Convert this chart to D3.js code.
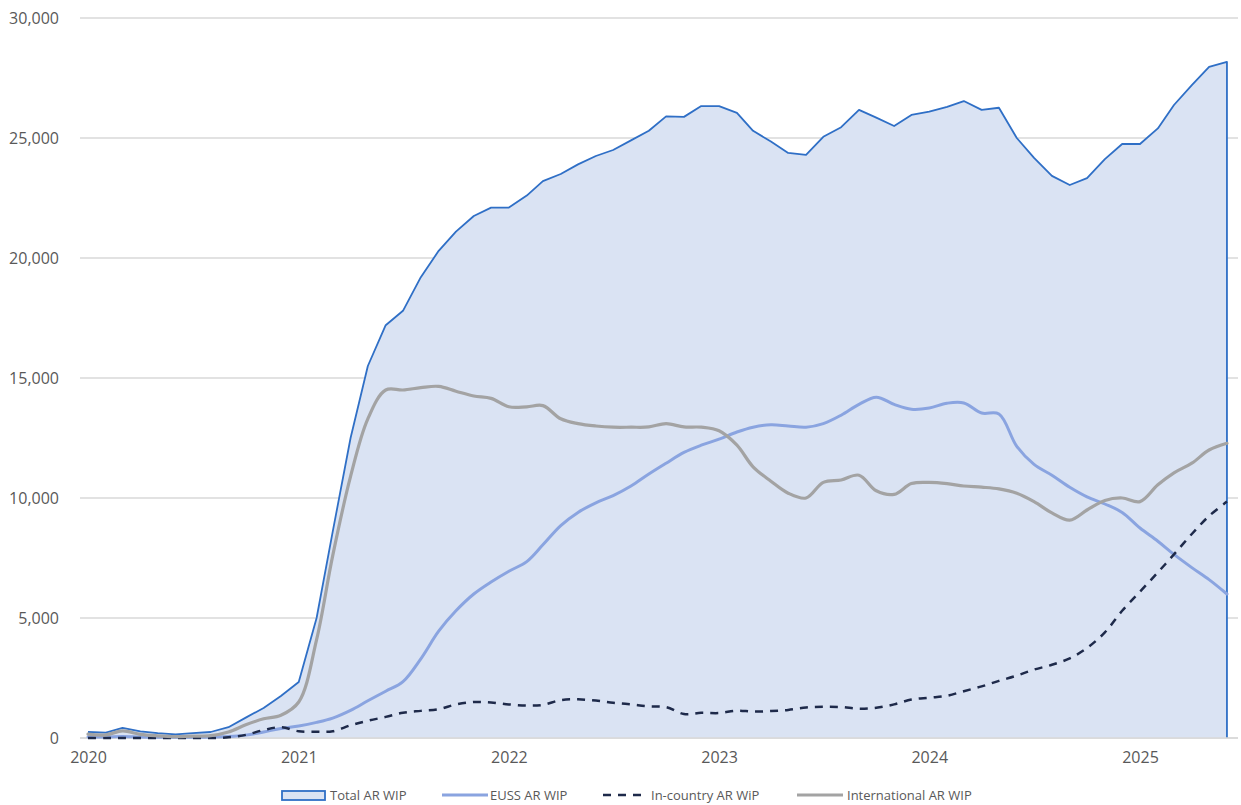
<!DOCTYPE html>
<html>
<head>
<meta charset="utf-8">
<script src="https://cdn.jsdelivr.net/npm/d3@7"></script>
<style>
  html, body { margin: 0; padding: 0; background: #ffffff; }
  svg { display: block; }
  text { font-family: "Open Sans", "Noto Sans", sans-serif; fill: #595959; }
</style>
</head>
<body>
<svg id="chart" width="1241" height="805"></svg>
<script>
// Monthly work-in-progress, January 2020 to June 2025
const months = d3.timeMonth.range(new Date(2020, 0, 1), new Date(2025, 6, 1));

const totalWip = [
  250, 220, 420, 280, 200, 150, 200, 250, 450, 850, 1250, 1750,
  2330, 5000, 8600, 12500, 15500, 17200, 17800, 19200, 20300, 21100, 21750, 22100,
  22100, 22600, 23200, 23500, 23900, 24250, 24500, 24900, 25300, 25900, 25880, 26330,
  26330, 26050, 25300, 24850, 24380, 24300, 25050, 25450, 26170, 25850, 25500, 25960,
  26100, 26300, 26540, 26170, 26260, 25000, 24170, 23420, 23040, 23330, 24120, 24750,
  24750, 25400, 26375, 27200, 27960, 28170
];
const eussWip = [
  40, 40, 60, 40, 30, 30, 30, 40, 60, 120, 250, 400,
  500, 650, 830, 1150, 1550, 1950, 2350, 3300, 4450, 5300, 6000, 6500,
  6950, 7350, 8050, 8850, 9400, 9800, 10100, 10500, 11000, 11450, 11900, 12200,
  12450, 12750, 12950, 13050, 13000, 12950, 13100, 13450, 13900, 14200, 13900, 13700,
  13750, 13950, 13960, 13540, 13500, 12150, 11400, 10950, 10450, 10050, 9750, 9400,
  8750, 8200, 7650, 7100, 6600, 6000
];
const inCountryWip = [
  0, 0, 0, 0, 0, 0, 0, 0, 30, 130, 330, 450,
  280, 260, 280, 530, 720, 880, 1050, 1130, 1200, 1400, 1500, 1480,
  1400, 1350, 1380, 1580, 1610, 1560, 1470, 1400, 1320, 1290, 1000, 1050,
  1040, 1140, 1100, 1125, 1170, 1270, 1300, 1290, 1220, 1260, 1400, 1600,
  1680, 1760, 1950, 2150, 2380, 2600, 2850, 3050, 3320, 3750, 4400, 5300,
  6100, 6900, 7650, 8500, 9250, 9850
];
const internationalWip = [
  160, 130, 300, 150, 90, 60, 80, 100, 250, 550, 800, 950,
  1500, 4100, 7600, 10900, 13300, 14500, 14500, 14600, 14650, 14450, 14250, 14150,
  13800, 13800, 13850, 13300, 13100, 13000, 12950, 12950, 12960, 13100, 12960, 12950,
  12800, 12200, 11300, 10700, 10200, 10000, 10650, 10750, 10950, 10300, 10150, 10600,
  10650, 10600, 10500, 10450, 10380, 10200, 9850, 9380, 9080, 9500, 9900, 10000,
  9850, 10550, 11050, 11450, 12000, 12280
];

const yTicks = [0, 5000, 10000, 15000, 20000, 25000, 30000];
const yearTicks = [2020, 2021, 2022, 2023, 2024, 2025];
const legendLabels = ["Total AR WIP", "EUSS AR WIP", "In-country AR WiP", "International AR WIP"];

const svg = d3.select("#chart");

const x = d3.scaleTime()
  .domain([new Date(2020, 0, 1), new Date(2025, 0, 1)])
  .range([88, 1140]);
const y = d3.scaleLinear().domain([0, 30000]).range([738, 18]);

// Horizontal gridlines
svg.append("g")
  .selectAll("line")
  .data(yTicks)
  .join("line")
  .attr("x1", 80).attr("x2", 1238)
  .attr("y1", d => y(d)).attr("y2", d => y(d))
  .attr("stroke", "#d9d9d9").attr("stroke-width", 1.3);

// Y axis labels
const yAxis = d3.axisLeft(y).tickValues(yTicks).tickSize(0).tickPadding(0)
  .tickFormat(d3.format(","));
svg.append("g")
  .attr("transform", "translate(59,0)")
  .call(yAxis)
  .call(g => g.select(".domain").remove())
  .call(g => g.selectAll("text")
    .attr("font-size", 16).attr("fill", "#595959")
    .style("font-family", "'Open Sans', 'Noto Sans', sans-serif"));

const rows = months.map((m, i) => ({
  date: m, total: totalWip[i], euss: eussWip[i],
  inCountry: inCountryWip[i], international: internationalWip[i]
}));

// Total area fill
svg.append("path")
  .datum(rows)
  .attr("fill", "#dae3f3")
  .attr("d", d3.area().x(d => x(d.date)).y0(y(0)).y1(d => y(d.total)));

// Total outline: top edge and the closing right edge
const last = rows[rows.length - 1];
const outline = d3.line().x(d => x(d.date)).y(d => y(d.total))(rows)
  + `L${x(last.date)},${y(0)}`;
svg.append("path")
  .attr("d", outline)
  .attr("fill", "none")
  .attr("stroke", "#2f6fc6")
  .attr("stroke-width", 1.8)
  .attr("stroke-linejoin", "round");

// Baseline
svg.append("line")
  .attr("x1", 80).attr("x2", 1238)
  .attr("y1", y(0)).attr("y2", y(0))
  .attr("stroke", "#d9d9d9").attr("stroke-width", 1.3);

const smooth = key => d3.line()
  .curve(d3.curveCatmullRom.alpha(0.5))
  .x(d => x(d.date)).y(d => y(d[key]));

svg.append("path").datum(rows)
  .attr("d", smooth("euss"))
  .attr("fill", "none").attr("stroke", "#8aa4e0").attr("stroke-width", 3)
  .attr("stroke-linecap", "round");

svg.append("path").datum(rows)
  .attr("d", smooth("inCountry"))
  .attr("fill", "none").attr("stroke", "#1e2a4a").attr("stroke-width", 2.5)
  .attr("stroke-dasharray", "8,7");

svg.append("path").datum(rows)
  .attr("d", smooth("international"))
  .attr("fill", "none").attr("stroke", "#a3a3a3").attr("stroke-width", 3.2)
  .attr("stroke-linecap", "round");

// Year labels
const xAxis = d3.axisBottom(x)
  .tickValues(yearTicks.map(yr => new Date(yr, 0, 1)))
  .tickSize(0).tickPadding(0)
  .tickFormat(d3.timeFormat("%Y"));
svg.append("g")
  .attr("transform", "translate(0,752)")
  .call(xAxis)
  .call(g => g.select(".domain").remove())
  .call(g => g.selectAll("text")
    .attr("font-size", 16).attr("fill", "#595959")
    .style("font-family", "'Open Sans', 'Noto Sans', sans-serif"));

// Legend
const legend = svg.append("g").attr("font-size", 13);
const ly = 795;
legend.append("rect")
  .attr("x", 282).attr("y", ly - 4).attr("width", 43).attr("height", 9)
  .attr("fill", "#dae3f3").attr("stroke", "#2f6fc6").attr("stroke-width", 1.8);
legend.append("line")
  .attr("x1", 442).attr("x2", 488).attr("y1", ly).attr("y2", ly)
  .attr("stroke", "#8aa4e0").attr("stroke-width", 3);
legend.append("line")
  .attr("x1", 603).attr("x2", 648).attr("y1", ly).attr("y2", ly)
  .attr("stroke", "#1e2a4a").attr("stroke-width", 2.5).attr("stroke-dasharray", "8,7");
legend.append("line")
  .attr("x1", 797).attr("x2", 843).attr("y1", ly).attr("y2", ly)
  .attr("stroke", "#a3a3a3").attr("stroke-width", 3.2);
const textX = [330, 490, 651, 847];
legend.selectAll("text")
  .data(legendLabels)
  .join("text")
  .attr("x", (d, i) => textX[i])
  .attr("y", ly)
  .attr("dy", "0.35em")
  .text(d => d);
</script>
</body>
</html>
